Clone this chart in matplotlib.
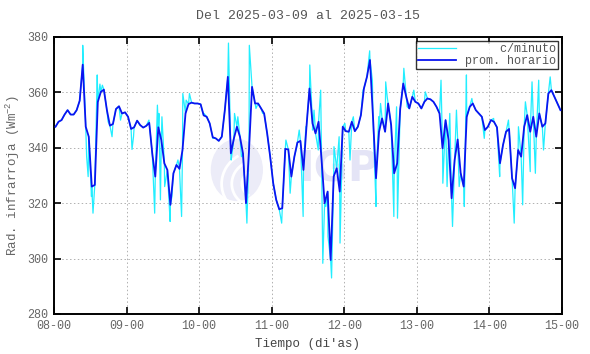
import numpy as np
import matplotlib
matplotlib.use("Agg")
import matplotlib.pyplot as plt
from matplotlib.patches import Ellipse, Arc

plt.rcParams["font.family"] = ["Liberation Mono", "DejaVu Sans Mono"]
plt.rcParams["mathtext.fontset"] = "custom"
plt.rcParams["mathtext.rm"] = "Liberation Mono"

title = "Del 2025-03-09 al 2025-03-15"
day_labels = ["08-00", "09-00", "10-00", "11-00", "12-00", "13-00", "14-00", "15-00"]

# promedio horario (168 horas, punto en la mitad de cada hora)
hourly = [
    347.6, 349.4, 350.0, 352.0, 353.6, 352.0, 352.0, 353.6, 357.0, 370.0,
    347.6, 344.0, 326.0, 326.6, 356.6, 360.2, 361.0, 353.6, 348.0, 348.6,
    354.0, 355.0, 352.4, 352.8, 351.2, 346.8, 347.4, 349.8, 348.2, 347.3,
    347.9, 349.0, 338.0, 329.6, 347.4, 342.8, 334.4, 332.0, 319.4, 330.8,
    333.8, 332.4, 339.2, 352.4, 355.8, 356.3, 356.0, 356.0, 355.7, 351.7,
    351.2, 348.8, 343.8, 343.4, 342.5, 344.0, 353.6, 365.6, 338.0, 343.4,
    347.6, 344.0, 338.0, 320.0, 339.2, 362.0, 356.0, 356.0, 354.2, 352.4,
    345.2, 336.8, 327.2, 321.2, 317.8, 318.2, 339.6, 339.4, 329.6, 336.8,
    341.9, 342.5, 332.0, 347.6, 361.4, 348.8, 345.2, 349.4, 335.6, 320.0,
    324.2, 299.5, 329.6, 332.6, 324.2, 347.6, 346.0, 345.8, 349.4, 346.0,
    347.6, 351.8, 361.4, 365.6, 371.7, 351.2, 329.0, 345.8, 350.6, 345.8,
    356.0, 348.2, 330.8, 334.4, 354.0, 363.2, 358.4, 354.2, 358.4, 356.6,
    356.0, 354.2, 356.6, 357.8, 357.5, 356.6, 354.8, 352.4, 339.8, 350.0,
    342.8, 321.8, 335.6, 343.0, 330.8, 326.0, 351.2, 354.8, 356.0, 353.6,
    352.4, 351.2, 346.4, 347.6, 350.0, 349.4, 347.4, 334.4, 341.0, 345.8,
    346.8, 329.0, 325.4, 339.2, 336.8, 347.6, 351.8, 345.8, 351.2, 344.0,
    352.4, 347.6, 348.8, 359.6, 360.8, 358.4, 356.0, 353.6,
]

# picos visibles de la serie por minuto (hora desde el inicio, valor)
spike_t = [
    9.5, 10.8, 11.3, 12.4, 12.9, 14.3, 15.2, 16.0, 17.9, 19.2, 22.0, 25.8,
    26.3, 31.4, 33.3, 34.2, 34.7, 35.2, 35.7, 36.6, 38.4, 39.0, 41.0, 42.2,
    42.6, 43.7, 44.8, 49.6, 52.5, 57.7, 58.6, 59.7, 60.8, 62.0, 63.8, 64.6,
    66.8, 69.0, 72.9, 75.3, 76.7, 78.1, 80.3, 81.1, 82.4, 83.3, 84.6, 85.5,
    86.0, 87.4, 88.2, 88.9, 89.9, 90.6, 91.8, 92.6, 94.3, 94.6, 96.2, 97.9,
    99.0, 102.2, 104.4, 105.3, 106.5, 107.4, 108.0, 109.7, 110.2, 112.4,
    113.3, 113.6, 115.7, 116.8, 119.0, 122.8, 128.0, 128.6, 130.0, 130.9,
    131.8, 133.1, 134.0, 135.7, 136.4, 138.2, 142.3, 145.4, 147.4, 150.3,
    152.2, 153.6, 155.0, 155.9, 157.5, 158.1, 159.2, 160.3, 161.9, 164.1,
]
spike_v = [
    377.0, 336.8, 329.6, 322.4, 316.4, 366.3, 363.0, 362.6, 349.4, 344.0, 350.0, 339.4,
    344.0, 350.0, 316.4, 355.4, 352.4, 321.2, 351.2, 326.0, 313.4, 322.4, 335.6, 315.2,
    359.6, 357.2, 359.6, 352.4, 343.4, 377.8, 335.6, 352.4, 351.2, 336.8, 312.8, 377.0,
    354.2, 352.4, 324.8, 312.8, 342.8, 323.6, 340.4, 346.4, 315.2, 347.6, 369.9, 346.4,
    353.6, 339.2, 360.8, 298.3, 318.8, 308.0, 293.0, 340.4, 344.0, 305.6, 348.8, 335.6,
    351.2, 360.8, 375.0, 364.4, 318.8, 351.2, 356.0, 363.8, 358.4, 315.2,
    354.8, 314.6, 368.7, 354.8, 360.8, 360.2, 364.4, 327.2, 326.0, 352.4,
    311.6, 353.6, 326.0, 318.8, 366.3, 357.8, 343.4, 350.6, 329.6, 350.0,
    312.8, 347.6, 319.4, 356.6, 331.4, 363.8, 330.8, 364.4, 339.2, 365.6,
]

t_hour = np.arange(len(hourly)) + 0.5
t_min = np.concatenate([t_hour, spike_t])
v_min = np.concatenate([hourly, spike_v])
order = np.argsort(t_min)
t_min, v_min = t_min[order], v_min[order]

fig = plt.figure(figsize=(5.9, 3.54), dpi=100)
ax = fig.add_axes([0.0915, 0.113, 0.861, 0.7825])

# marca de agua IGP
wm = "#e4e4f6"
ax.add_patch(Ellipse((0.36, 0.52), 0.10, 0.22, transform=ax.transAxes,
                     color="#ececf8", zorder=0))
for r in (0.06, 0.10, 0.14):
    ax.add_patch(Arc((0.40, 0.47), r, r * 1.7, theta1=110, theta2=250,
                     transform=ax.transAxes, color="white", lw=2, zorder=0))
ax.text(0.56, 0.52, "IGP", transform=ax.transAxes, ha="center", va="center",
        fontsize=30, fontweight="bold", color=wm, family="DejaVu Sans", zorder=0)

ax.plot(t_min, v_min, color="#22eeff", lw=0.9, label="     c/minuto", zorder=2)
ax.plot(t_hour, hourly, color="#0a14f0", lw=1.3, label="prom. horario", zorder=3)

ax.set_xlim(0, 168)
ax.set_ylim(280, 380)
ax.set_xticks(np.arange(len(day_labels)) * 24)
ax.set_xticklabels(day_labels)
ax.set_yticks(np.arange(280, 381, 20))

ax.grid(True, color="#b0b0b0", linestyle=(0, (1.5, 2.5)), lw=0.7)
ax.tick_params(direction="in", top=True, right=True, length=5, width=1.2,
               labelsize=8.5, colors="black", pad=4)
for tl in ax.get_xticklabels() + ax.get_yticklabels():
    tl.set_color("#666666")
for s in ax.spines.values():
    s.set_linewidth(1.4)

ax.set_title(title, fontsize=9.5, color="#555555", pad=13)
ax.set_xlabel("Tiempo (di'as)", fontsize=9, color="#444444", labelpad=5)
ax.set_ylabel("Rad. infrarroja (Wm$^{\\mathregular{-2}}$)", fontsize=9,
              color="#666666", labelpad=4)

leg = ax.legend(loc="upper right", fontsize=8.5, frameon=True, fancybox=False,
                edgecolor="black", handlelength=3.2, borderpad=0.15,
                labelspacing=0.05, handletextpad=0.8, borderaxespad=0.35)
leg.get_frame().set_linewidth(1.0)
for txt in leg.get_texts():
    txt.set_color("#555555")

fig.savefig("out.png", dpi=100)
